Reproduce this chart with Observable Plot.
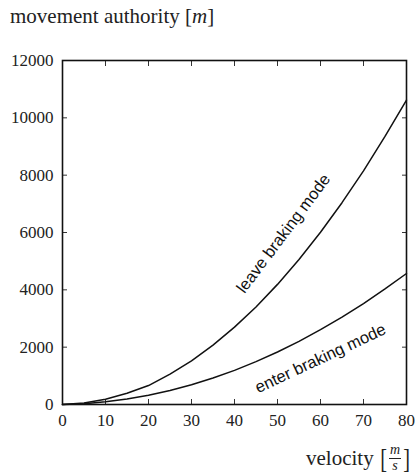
<!DOCTYPE html>
<html>
<head>
<meta charset="utf-8">
<script src="https://cdn.jsdelivr.net/npm/d3@7"></script>
<script src="https://cdn.jsdelivr.net/npm/@observablehq/plot@0.6"></script>
<style>
  html, body { margin: 0; padding: 0; background: #fff; }
  #fig { position: relative; width: 415px; height: 474px; overflow: hidden; }
  .serif { font-family: "Liberation Serif", "Times New Roman", serif; }
  #title { position: absolute; left: 10px; top: 4px; font-size: 21px; color: #222; white-space: nowrap; }
  #chart { position: absolute; left: 0; top: 30px; width: 415px; }
  #xlab { position: absolute; left: 306px; top: 443px; font-size: 21px; color: #222; white-space: nowrap; }
  .frac { display: inline-block; vertical-align: -5px; text-align: center; font-style: italic; font-size: 14px; line-height: 1; margin: 0 1px; }
  .frac .num { display: block; border-bottom: 1px solid #222; padding: 0 1px 1px; }
  .frac .den { display: block; padding-top: 0px; }
  .br { display: inline-block; font-size: 27px; transform: scaleX(0.75); vertical-align: -3px; font-weight: 300; }
</style>
</head>
<body>
<div id="fig">
  <div id="title" class="serif">movement authority [<i>m</i>]</div>
  <div id="chart"></div>
  <div id="xlab" class="serif">velocity&nbsp;<span class="br">[</span><span class="frac"><span class="num">m</span><span class="den">s</span></span><span class="br">]</span></div>
</div>
<script>
const velocity = [0, 5, 10, 15, 20, 25, 30, 35, 40, 45, 50, 55, 60, 65, 70, 75, 80];
const leaveBraking = [0, 50, 180, 390, 660, 1060, 1520, 2070, 2700, 3400, 4190, 5060, 6010, 7040, 8150, 9350, 10620];
const enterBraking = [0, 30, 95, 190, 320, 490, 690, 925, 1190, 1495, 1830, 2200, 2610, 3045, 3520, 4030, 4570];
const xTicks = [0, 10, 20, 30, 40, 50, 60, 70, 80];
const yTicks = [0, 2000, 4000, 6000, 8000, 10000, 12000];
const curveLabels = ["leave braking mode", "enter braking mode"];

const leaveData = velocity.map((v, i) => ({v, d: leaveBraking[i]}));
const enterData = velocity.map((v, i) => ({v, d: enterBraking[i]}));

const serifFont = "Liberation Serif";
const sansFont = "Liberation Sans";

const chart = Plot.plot({
  width: 415,
  height: 444,
  marginTop: 30,
  marginBottom: 70,
  marginLeft: 62,
  marginRight: 9,
  style: {color: "#222", background: "white", maxWidth: "none"},
  x: {domain: [0, 80], label: null},
  y: {domain: [0, 12000], label: null},
  marks: [
    Plot.axisX({ticks: xTicks, anchor: "bottom", tickSize: 0, tickPadding: 9, label: null, fontFamily: serifFont, fontSize: 17, fill: "#222", tickFormat: d => String(d)}),
    Plot.axisY({ticks: yTicks, anchor: "left", tickSize: 0, tickPadding: 9, label: null, fontFamily: serifFont, fontSize: 17, fill: "#222", tickFormat: d => String(d)}),
    Plot.axisX({ticks: xTicks, anchor: "bottom", tickSize: -5, fill: "none", label: null, stroke: "#333"}),
    Plot.axisX({ticks: xTicks, anchor: "top", tickSize: -5, fill: "none", label: null, stroke: "#333"}),
    Plot.axisY({ticks: yTicks, anchor: "left", tickSize: -5, fill: "none", label: null, stroke: "#333"}),
    Plot.axisY({ticks: yTicks, anchor: "right", tickSize: -5, fill: "none", label: null, stroke: "#333"}),
    Plot.line(leaveData, {x: "v", y: "d", stroke: "#111", strokeWidth: 1.5}),
    Plot.line(enterData, {x: "v", y: "d", stroke: "#111", strokeWidth: 1.5}),
    Plot.text([curveLabels[0]], {x: 51.4, y: 5965, text: d => d, rotate: -53, fill: "#111", fontFamily: sansFont, fontSize: 16.5}),
    Plot.text([curveLabels[1]], {x: 60, y: 1605, text: d => d, rotate: -25, fill: "#111", fontFamily: sansFont, fontSize: 16.5}),
    Plot.frame({stroke: "#111", strokeWidth: 1.6})
  ]
});
document.getElementById("chart").appendChild(chart);
</script>
</body>
</html>
